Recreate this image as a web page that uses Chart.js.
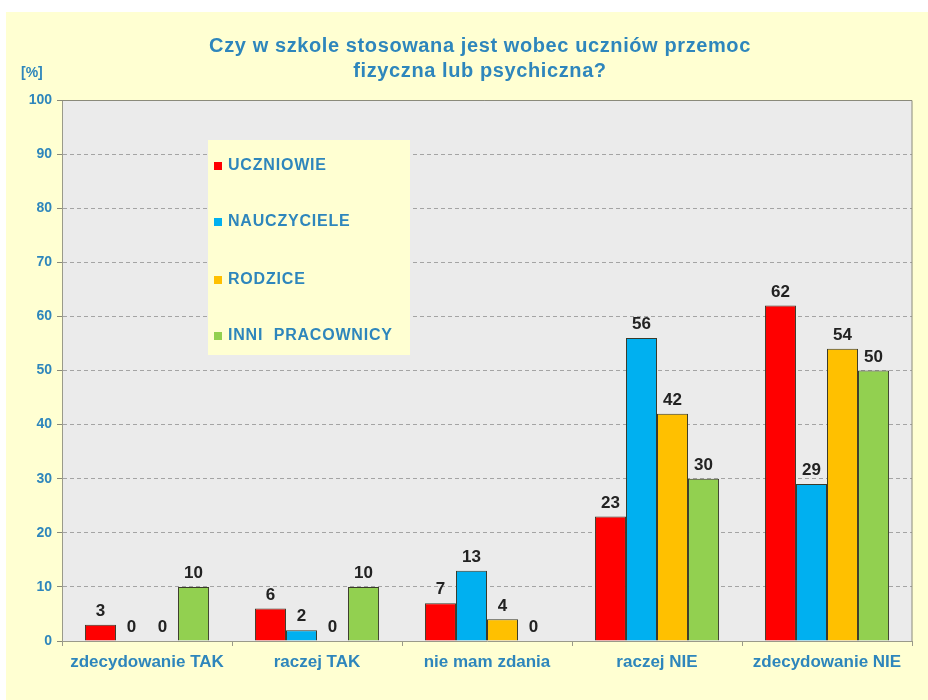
<!DOCTYPE html>
<html>
<head>
<meta charset="utf-8">
<script src="https://cdn.jsdelivr.net/npm/chart.js@4"></script>
<style>
  html,body{margin:0;padding:0;background:#fff;}
  #wrap{position:relative;width:928px;height:700px;}
  canvas{display:block;}
</style>
</head>
<body>
<div id="wrap"><canvas id="c" width="928" height="700"></canvas></div>
<script>
const categories = ['zdecydowanie TAK', 'raczej TAK', 'nie mam zdania', 'raczej NIE', 'zdecydowanie NIE'];
const seriesNames = ['UCZNIOWIE', 'NAUCZYCIELE', 'RODZICE', 'INNI  PRACOWNICY'];
const uczniowie   = [3, 6, 7, 23, 62];
const nauczyciele = [0, 2, 13, 56, 29];
const rodzice     = [0, 0, 4, 42, 54];
const inni        = [10, 10, 0, 30, 50];
const yTicks = [0, 10, 20, 30, 40, 50, 60, 70, 80, 90, 100];
const titleLines = ['Czy w szkole stosowana jest wobec uczniów przemoc', 'fizyczna lub psychiczna?'];

const colors = ['#FF0000', '#00B0F0', '#FFC000', '#92D050'];
const BLUE = '#2E86BC';
const FONT = '"Liberation Sans", Arial, sans-serif';

const bgPlugin = {
  id: 'bg',
  beforeDraw(chart) {
    const {ctx, chartArea: a} = chart;
    ctx.save();
    ctx.fillStyle = '#FFFFD2';
    ctx.fillRect(6, 12, chart.width - 6, chart.height - 12);
    ctx.fillStyle = '#EBEBEB';
    ctx.fillRect(a.left, a.top, a.right - a.left, a.bottom - a.top);
    ctx.restore();
  },
  beforeDatasetsDraw(chart) {
    // solid top line and right edge of the plot area
    const {ctx, chartArea: a} = chart;
    ctx.save();
    ctx.strokeStyle = '#8a8a7a';
    ctx.lineWidth = 1;
    ctx.beginPath();
    ctx.moveTo(a.left - 5, a.top + 0.5);
    ctx.lineTo(a.right, a.top + 0.5);
    ctx.lineTo(a.right, a.bottom);
    ctx.stroke();
    ctx.restore();
  },
  afterDraw(chart) {
    const {ctx} = chart;
    ctx.save();
    ctx.fillStyle = BLUE;
    ctx.font = 'bold 20px ' + FONT;
    ctx.letterSpacing = '0.6px';
    ctx.textAlign = 'center';
    ctx.textBaseline = 'middle';
    ctx.fillText(titleLines[0], 480, 46);
    ctx.fillText(titleLines[1], 480, 71);
    ctx.letterSpacing = '0px';
    ctx.font = 'bold 14px ' + FONT;
    ctx.textAlign = 'left';
    ctx.fillText('[%]', 21, 73);
    // legend box
    ctx.fillStyle = '#FFFFD2';
    ctx.fillRect(208, 140, 202, 215);
    const ys = [166, 222, 280, 336];
    chart.data.datasets.forEach((ds, i) => {
      ctx.fillStyle = ds.backgroundColor;
      ctx.fillRect(214, ys[i] - 4, 8, 8);
      ctx.fillStyle = BLUE;
      ctx.font = 'bold 16px ' + FONT;
      ctx.letterSpacing = '0.8px';
      ctx.fillText(ds.label, 228, ys[i]);
    });
    ctx.restore();
  },
  afterDatasetsDraw(chart) {
    const {ctx} = chart;
    ctx.save();
    ctx.fillStyle = '#222';
    ctx.font = 'bold 17px ' + FONT;
    ctx.textAlign = 'center';
    ctx.textBaseline = 'bottom';
    chart.data.datasets.forEach((ds, i) => {
      chart.getDatasetMeta(i).data.forEach((bar, j) => {
        ctx.fillText(String(ds.data[j]), bar.x, bar.y - 5);
      });
    });
    ctx.restore();
  }
};

const datasets = [uczniowie, nauczyciele, rodzice, inni].map((d, i) => ({
  label: seriesNames[i],
  data: d,
  backgroundColor: colors[i],
  borderColor: '#3a3a2a',
  borderWidth: 1,
  categoryPercentage: 0.73,
  barPercentage: 1.0
}));

new Chart(document.getElementById('c'), {
  type: 'bar',
  data: {labels: categories, datasets},
  options: {
    responsive: false,
    animation: false,
    layout: {padding: {top: 100, right: 16, bottom: 0, left: 0}},
    plugins: {legend: {display: false}, tooltip: {enabled: false}},
    scales: {
      x: {
        grid: {display: true, drawOnChartArea: false, offset: true, tickLength: 5, color: '#9a9a8a'},
        border: {color: '#9a9a8a'},
        ticks: {color: BLUE, font: {family: FONT, size: 17, weight: 'bold'}, padding: 6},
        afterFit(s) { s.height = 59; }
      },
      y: {
        min: 0, max: 100,
        afterBuildTicks(s) { s.ticks = yTicks.map(v => ({value: v})); },
        grid: {color: '#a4a4a4', tickLength: 5, tickColor: '#8a8a7a'},
        border: {color: '#9a9a8a', dash: [4, 3]},
        ticks: {color: BLUE, font: {family: FONT, size: 14, weight: 'bold'}, padding: 5},
        afterFit(s) { s.width = 62; }
      }
    }
  },
  plugins: [bgPlugin]
});
</script>
</body>
</html>
